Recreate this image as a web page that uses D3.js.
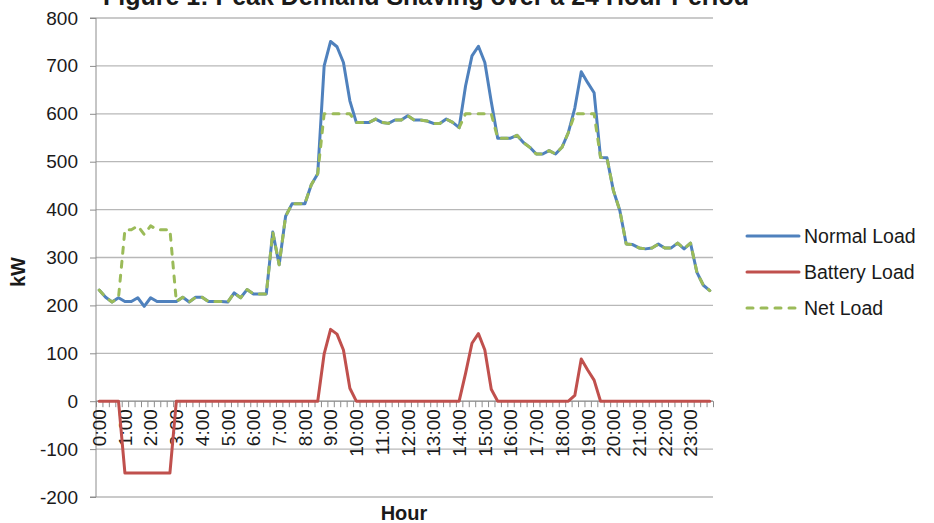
<!DOCTYPE html>
<html>
<head>
<meta charset="utf-8">
<script src="https://cdn.jsdelivr.net/npm/d3@7"></script>
<style>
  body { margin: 0; background: #fff; }
  svg text { font-family: "Liberation Sans", Arial, sans-serif; fill: #1a1a1a; }
</style>
</head>
<body>
<svg id="chart" width="934" height="523"></svg>
<script>
// 15 minute readings over the day (96 points)
var hourLabels = ["0:00","1:00","2:00","3:00","4:00","5:00","6:00","7:00","8:00","9:00","10:00","11:00",
                  "12:00","13:00","14:00","15:00","16:00","17:00","18:00","19:00","20:00","21:00","22:00","23:00"];

var normalLoad = [232,217,207,216,208,208,216,198,216,208,208,208,
                  208,217,207,217,217,208,208,208,207,226,216,233,
                  224,224,224,353,285,386,412,412,412,452,475,700,
                  751,740,707,627,582,582,582,589,582,580,587,587,
                  596,587,587,585,580,580,589,582,571,658,721,741,
                  707,625,549,549,549,555,540,530,516,516,523,516,
                  530,561,612,688,665,644,509,508,440,398,328,327,
                  320,318,320,328,320,320,330,318,330,269,242,231];

var batteryLoad = [0,0,0,0,-150,-150,-150,-150,-150,-150,-150,-150,
                   0,0,0,0,0,0,0,0,0,0,0,0,
                   0,0,0,0,0,0,0,0,0,0,0,99,
                   150,140,107,27,0,0,0,0,0,0,0,0,
                   0,0,0,0,0,0,0,0,0,58,121,141,
                   107,25,0,0,0,0,0,0,0,0,0,0,
                   0,0,12,88,65,44,0,0,0,0,0,0,
                   0,0,0,0,0,0,0,0,0,0,0,0];

var netLoad = [232,217,207,216,358,358,366,348,366,358,358,358,
               208,217,207,217,217,208,208,208,207,226,216,233,
               224,224,224,353,285,386,412,412,412,452,475,600,
               600,600,600,600,582,582,582,589,582,580,587,587,
               596,587,587,585,580,580,589,582,571,600,600,600,
               600,600,549,549,549,555,540,530,516,516,523,516,
               530,561,600,600,600,600,509,508,440,398,328,327,
               320,318,320,328,320,320,330,318,330,269,242,231];

var yTicks = [-200,-100,0,100,200,300,400,500,600,700,800];

var seriesNames = ["Normal Load","Battery Load","Net Load"];
var seriesColors = ["#4f81bd","#c0504d","#9bbb59"];

function drawChart() {
  var svg = d3.select("#chart");
  var left = 96, right = 713, top = 18, bottom = 497;

  var x = d3.scaleBand().domain(d3.range(normalLoad.length)).range([left, right]);
  var xLin = d3.scaleLinear().domain([0, normalLoad.length]).range([left, right]);
  var y = d3.scaleLinear().domain([-200, 800]).range([bottom, top]);
  var cx = function(i) { return x(i) + x.bandwidth() / 2; };

  // title (top is cut off in the original)
  svg.append("text")
    .attr("x", 426).attr("y", 5)
    .attr("text-anchor", "middle")
    .style("font-weight", "bold")
    .style("font-size", "25px")
    .text("Figure 1: Peak Demand Shaving over a 24 Hour Period");

  // gridlines
  svg.append("g").selectAll("line")
    .data(yTicks)
    .enter().append("line")
    .attr("x1", left).attr("x2", right)
    .attr("y1", function(d) { return y(d); })
    .attr("y2", function(d) { return y(d); })
    .attr("stroke", "#b8b8b8")
    .attr("stroke-width", 1.3);

  // y axis
  var yAxis = svg.append("g")
    .attr("transform", "translate(" + left + ",0)")
    .call(d3.axisLeft(y).tickValues(yTicks).tickSize(6).tickPadding(12)
      .tickFormat(function(d) { return String(d); }));
  yAxis.selectAll("line, path").attr("stroke", "#8c8c8c");
  yAxis.select(".domain").attr("d", "M-6," + y(-200) + "H0V" + y(800) + "H-6");
  yAxis.selectAll("text").style("font-size", "19px").attr("fill", "#1a1a1a");

  // x axis at zero: tick marks at category edges
  var xTicks = svg.append("g")
    .attr("transform", "translate(0," + y(0) + ")")
    .call(d3.axisBottom(xLin).tickValues(d3.range(normalLoad.length + 1)).tickSize(6).tickFormat(""));
  xTicks.selectAll("line, path").attr("stroke", "#8c8c8c");
  xTicks.select(".domain").attr("d", "M" + left + ",0H" + right);

  // hour labels, rotated
  var xLabels = svg.append("g")
    .attr("transform", "translate(0," + y(0) + ")")
    .call(d3.axisBottom(x)
      .tickValues(d3.range(0, normalLoad.length, 4))
      .tickSize(0)
      .tickFormat(function(d) { return hourLabels[d / 4]; }));
  xLabels.select(".domain").remove();
  xLabels.selectAll("text")
    .attr("transform", "rotate(-90)")
    .attr("x", -8).attr("y", 0).attr("dy", "0.36em")
    .style("text-anchor", "end")
    .style("font-size", "19px")
    .attr("fill", "#1a1a1a");

  // lines
  var line = d3.line()
    .x(function(d, i) { return cx(i); })
    .y(function(d) { return y(d); });

  var allSeries = [normalLoad, batteryLoad, netLoad];
  allSeries.forEach(function(s, k) {
    svg.append("path")
      .datum(s)
      .attr("d", line)
      .attr("fill", "none")
      .attr("stroke", seriesColors[k])
      .attr("stroke-width", 3)
      .attr("stroke-linejoin", "round")
      .attr("stroke-linecap", "round")
      .attr("stroke-dasharray", k == 2 ? "6,8" : null);
  });

  // axis titles
  svg.append("text")
    .attr("x", 404).attr("y", 520)
    .attr("text-anchor", "middle")
    .style("font-weight", "bold")
    .style("font-size", "20px")
    .text("Hour");

  svg.append("text")
    .attr("transform", "translate(25,272) rotate(-90)")
    .attr("text-anchor", "middle")
    .style("font-weight", "bold")
    .style("font-size", "20px")
    .text("kW");

  // legend
  var legend = svg.append("g").selectAll("g")
    .data(seriesNames)
    .enter().append("g")
    .attr("transform", function(d, i) { return "translate(747," + (236 + i * 36) + ")"; });

  legend.append("line")
    .attr("x1", 0).attr("x2", 52)
    .attr("stroke", function(d, i) { return seriesColors[i]; })
    .attr("stroke-width", 3)
    .attr("stroke-linecap", "round")
    .attr("stroke-dasharray", function(d, i) { return i == 2 ? "6,8" : null; });

  legend.append("text")
    .attr("x", 57).attr("dy", "0.36em")
    .style("font-size", "19.5px")
    .text(function(d) { return d; });
}

drawChart();
</script>
</body>
</html>
